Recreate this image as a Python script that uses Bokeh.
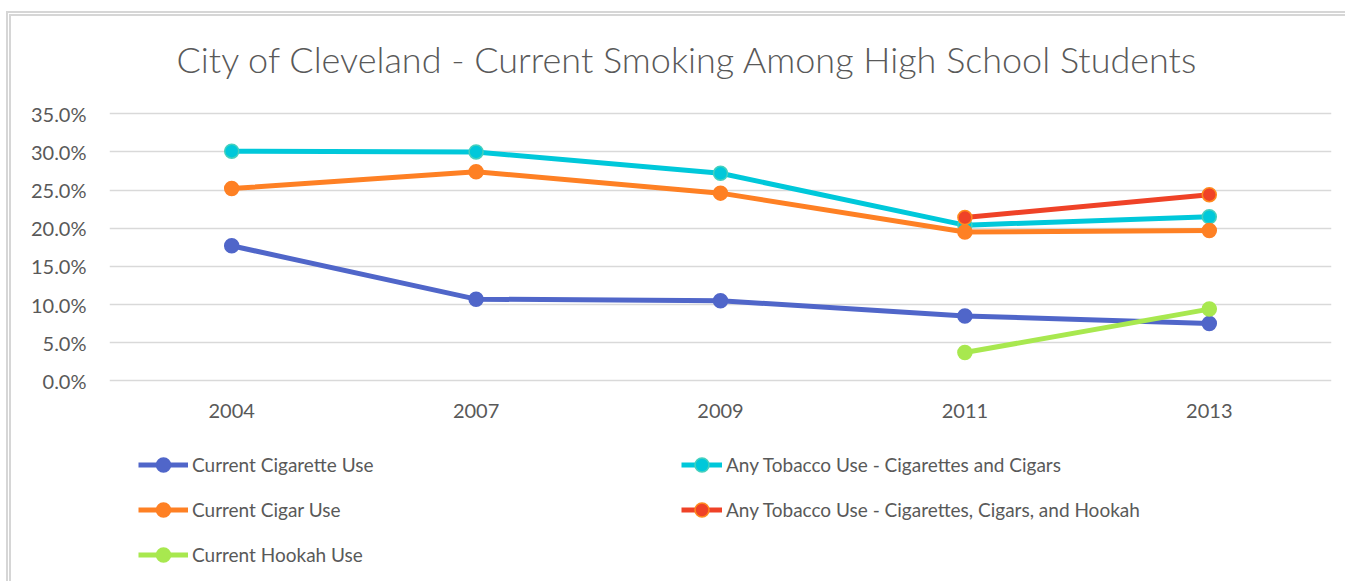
from bokeh.plotting import figure
from bokeh.core.properties import value
from bokeh.models import (FactorRange, Range1d, FixedTicker, NumeralTickFormatter,
                          Legend, LegendItem, ColumnDataSource, LabelSet, Label)
from bokeh.embed import file_html
from bokeh.resources import INLINE

nan = float("nan")

years = ["2004", "2007", "2009", "2011", "2013"]
cigarette = [0.177, 0.107, 0.105, 0.085, 0.075]
any_tobacco = [0.301, 0.300, 0.272, 0.204, 0.215]
cigar = [0.252, 0.274, 0.246, 0.195, 0.197]
any_tobacco_hookah = [nan, nan, nan, 0.214, 0.244]
hookah = [nan, nan, nan, 0.037, 0.094]
y_ticks = [0.0, 0.05, 0.10, 0.15, 0.20, 0.25, 0.30, 0.35]

title_text = "City of Cleveland - Current Smoking Among High School Students"

series = [
    ("Current Cigarette Use", cigarette, "#5066C9", "#5066C9"),
    ("Any Tobacco Use - Cigarettes and Cigars", any_tobacco, "#00C8DA", "#45D0BE"),
    ("Current Cigar Use", cigar, "#FE8024", "#FE8024"),
    ("Any Tobacco Use - Cigarettes, Cigars, and Hookah", any_tobacco_hookah, "#EF4227", "#FF8A1E"),
    ("Current Hookah Use", hookah, "#A8E84F", "#A8E84F"),
]

FONT = "Lato"
TXT = "#595959"

# the frame covers the whole chart height (title, plot area, legend);
# the 0%..35% plot area spans 267 px, starting 97.3 px below the top
H = 570
PX_PER_UNIT = 267 / 0.35
Y_TOP = 0.35 + 97.3 / PX_PER_UNIT
Y_BOTTOM = -(H - 364.3) / PX_PER_UNIT

p = figure(x_range=FactorRange(*years), y_range=Range1d(Y_BOTTOM, Y_TOP),
           width=1339, height=H, output_backend="svg", toolbar_location=None,
           x_axis_location=None,
           min_border_left=98, min_border_right=19, min_border_top=0, min_border_bottom=0)
p.styles = {"border-left": "5px double #d6d6d6", "border-top": "5px double #d6d6d6",
            "margin-left": "6px", "margin-top": "11px"}

p.outline_line_color = None
p.xgrid.grid_line_color = None
p.ygrid.grid_line_color = "#d9d9d9"
p.ygrid.grid_line_width = 1.5
p.yaxis.ticker = FixedTicker(ticks=y_ticks)
p.yaxis.formatter = NumeralTickFormatter(format="0.0%")
ax = p.yaxis[0]
ax.axis_line_color = None
ax.major_tick_line_color = None
ax.minor_tick_line_color = None
ax.major_tick_out = 0
ax.major_tick_in = 0
ax.major_label_text_font = FONT
ax.major_label_text_font_size = "20px"
ax.major_label_text_color = TXT
ax.major_label_standoff = 23

# category labels under the 0% line
xlab = LabelSet(x="x", y=0, text="x", source=ColumnDataSource(dict(x=years)),
                text_align="center", text_baseline="top", y_offset=-23,
                text_font=value(FONT), text_font_size=value("20px"), text_color=TXT)
p.add_layout(xlab)

# chart title
title = Label(text=title_text, x=67, y=H - 42, x_units="screen", y_units="screen",
              text_align="left", text_baseline="alphabetic",
              text_font="Lato Light, Lato", text_font_size="36px", text_color=TXT)
p.add_layout(title)

items = []
for name, vals, col, outline in series:
    src = ColumnDataSource(dict(x=years, y=vals))
    l = p.line("x", "y", source=src, line_color=col, line_width=5)
    s = p.scatter("x", "y", source=src, size=14, fill_color=col, line_color=outline, line_width=1.5)
    items.append(LegendItem(label=name, renderers=[l, s]))

def make_legend(its, loc, gw):
    return Legend(items=its, location=loc, orientation="vertical",
                  glyph_width=gw, glyph_height=35, spacing=10, padding=0, margin=0,
                  label_standoff=4, label_text_font=FONT, label_text_font_size="19px",
                  label_text_color=TXT, border_line_color=None, background_fill_alpha=0)

p.add_layout(make_legend([items[0], items[2], items[4]], (29, 14.5), 50), "center")
p.add_layout(make_legend([items[1], items[3]], (572, 59.5), 41), "center")

open("out.html", "w").write(file_html(p, INLINE))
